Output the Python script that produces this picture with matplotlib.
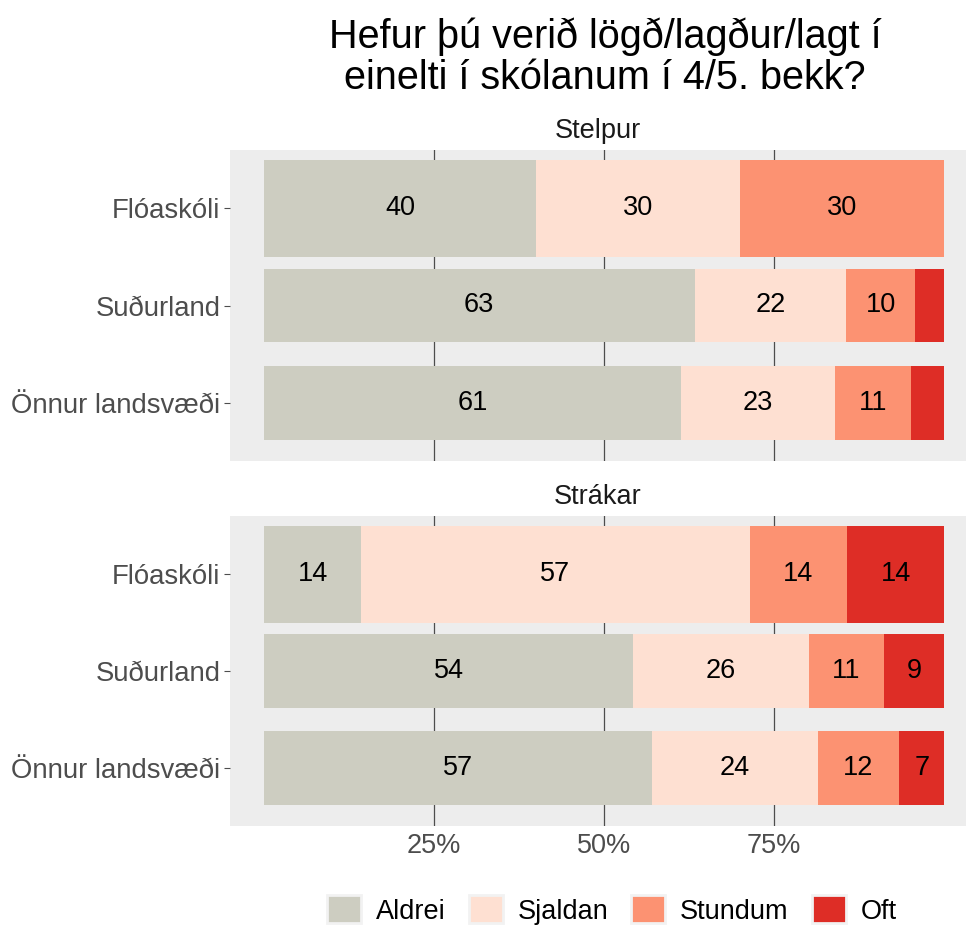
import matplotlib
matplotlib.use("Agg")
import matplotlib.pyplot as plt
from matplotlib.patches import Patch
import numpy as np

plt.rcParams["font.family"] = ["Liberation Sans", "DejaVu Sans"]

# Daten (Prozent)
skolar = ["Önnur landsvæði", "Suðurland", "Flóaskóli"]
svor = ["Aldrei", "Sjaldan", "Stundum", "Oft"]
litir = ["#CDCDC1", "#FEE0D2", "#FC9272", "#DE2D26"]

stelpur = {
    "Aldrei": [61.3, 63.3, 40.0],
    "Sjaldan": [22.6, 22.3, 30.0],
    "Stundum": [11.2, 10.1, 30.0],
    "Oft": [4.9, 4.3, 0.0],
}
strakar = {
    "Aldrei": [57.1, 54.3, 14.3],
    "Sjaldan": [24.3, 25.8, 57.1],
    "Stundum": [12.0, 11.1, 14.3],
    "Oft": [6.6, 8.8, 14.3],
}
breidd = [0.76, 0.76, 1.0]

W, H = 966, 926
FS = 19.5
fig = plt.figure(figsize=(W / 100, H / 100), dpi=100)

def panel(top_px, bot_px, data, titill):
    ax = fig.add_axes([230 / W, 1 - bot_px / H, 736 / W, (bot_px - top_px) / H])
    ax.set_facecolor("#EDEDED")
    for s in ax.spines.values():
        s.set_visible(False)
    ax.set_xlim(-5, 103.2)
    ax.set_ylim(0.4, 3.6)
    for g in [25, 50, 75]:
        ax.axvline(g, color="#4D4D4D", linewidth=0.9, zorder=1)
    y = np.arange(1, 4)
    left = np.zeros(3)
    for svar, litur in zip(svor, litir):
        v = np.array(data[svar])
        ax.barh(y, v, left=left, height=breidd, color=litur, zorder=2)
        for yi, li, vi in zip(y, left, v):
            if vi >= 6:
                ax.text(li + vi / 2, yi, f"{vi:.0f}", ha="center", va="center",
                        fontsize=FS, color="black", zorder=3)
        left = left + v
    ax.set_yticks(y)
    ax.set_yticklabels(skolar, fontsize=19.8, color="#4D4D4D")
    ax.tick_params(axis="y", length=4, color="#4D4D4D", pad=3)
    ax.set_xticks([25, 50, 75])
    ax.text(0.5, 1.0 + 19 / (bot_px - top_px), titill, transform=ax.transAxes,
            ha="center", va="center", fontsize=FS, color="#1A1A1A")
    return ax

ax1 = panel(150, 461, stelpur, "Stelpur")
ax1.tick_params(axis="x", length=0, labelbottom=False)
ax2 = panel(516, 826, strakar, "Strákar")
ax2.set_xticklabels(["25%", "50%", "75%"], fontsize=FS, color="#4D4D4D")
ax2.tick_params(axis="x", length=0, pad=5)

fig.text(605 / W, 1 - 57 / H, "Hefur þú verið lögð/lagður/lagt í\neinelti í skólanum í 4/5. bekk?",
         ha="center", va="center", fontsize=28.5, linespacing=1.08)

handles = [Patch(facecolor=c, edgecolor="#F2F2F2", linewidth=2) for c in litir]
fig.legend(handles, svor, loc="center", bbox_to_anchor=(612 / W, 1 - 910 / H), ncol=4,
           frameon=False, fontsize=FS, handlelength=1.25, handleheight=1.2,
           handletextpad=0.55, columnspacing=0.85, borderpad=0.0)

fig.savefig("out.png", dpi=100)
